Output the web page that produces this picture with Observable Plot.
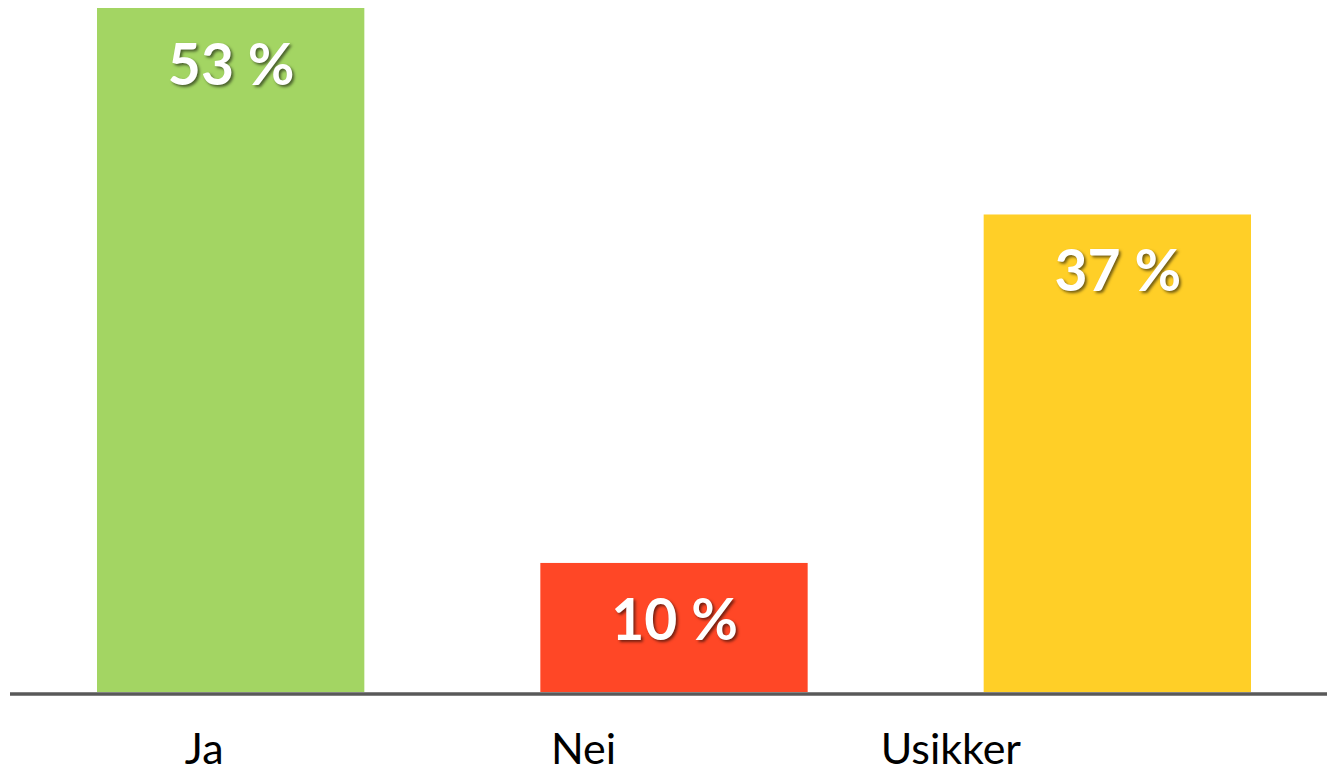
<!DOCTYPE html>
<html>
<head>
<meta charset="utf-8">
<script src="https://cdn.jsdelivr.net/npm/d3@7"></script>
<script src="https://cdn.jsdelivr.net/npm/@observablehq/plot@0.6"></script>
<style>
  html, body { margin: 0; padding: 0; background: #fff; }
  .vlabel text { text-shadow: 2px 2px 3px rgba(0,0,0,0.55); }
</style>
</head>
<body>
<div id="chart"></div>
<script>
const categories = ["Ja", "Nei", "Usikker"];
const values = [53, 10, 37];
const labels = ["53 %", "10 %", "37 %"];
const colors = ["#A3D563", "#FF4726", "#FFCF27"];

const data = categories.map((c, i) => ({ category: c, value: values[i], label: labels[i], color: colors[i] }));
const labelShift = { "Ja": -27, "Nei": -91, "Usikker": -167 };

const chart = Plot.plot({
  width: 1327,
  height: 772,
  marginTop: 8,
  marginBottom: 80,
  marginLeft: 97,
  marginRight: 76,
  style: { fontFamily: "Lato, 'Open Sans', sans-serif", background: "#fff" },
  x: { domain: categories, paddingInner: 0.397, paddingOuter: 0, round: false, axis: null },
  y: { domain: [0, 53], axis: null },
  marks: [
    Plot.barY(data, { x: "category", y: "value", fill: "color" }),
    Plot.ruleY([0], { stroke: "#595959", strokeWidth: 3.5, insetLeft: -87, insetRight: -76, dy: 1.5 }),
    Plot.text(data, {
      x: "category", y: "value", text: "label", fill: "white",
      fontWeight: "bold", fontSize: 57, dy: 58, lineAnchor: "middle",
      className: "vlabel"
    }),
    ...categories.map(c => Plot.text([c], {
      x: d => d, y: () => 0, text: d => d, fill: "#000",
      fontSize: 43, dy: 58, dx: labelShift[c], lineAnchor: "middle"
    }))
  ]
});
document.getElementById("chart").appendChild(chart);
</script>
</body>
</html>
